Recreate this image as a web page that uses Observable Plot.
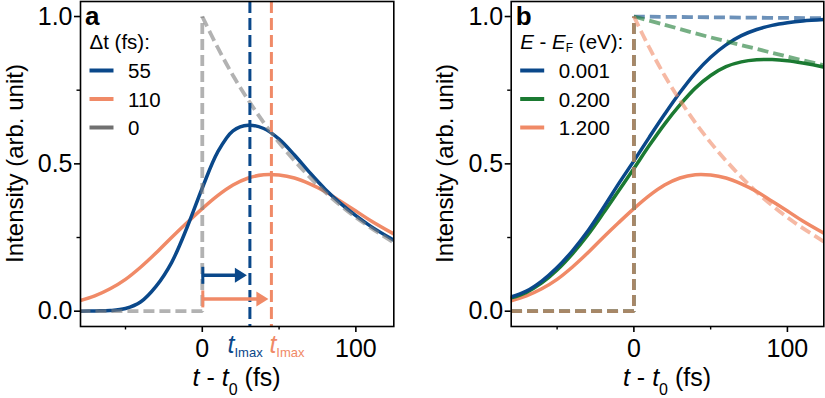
<!DOCTYPE html>
<html><head><meta charset="utf-8">
<script src="https://cdn.jsdelivr.net/npm/d3@7"></script>
<script src="https://cdn.jsdelivr.net/npm/@observablehq/plot@0.6"></script>
<style>
html,body{margin:0;padding:0;background:#fff;}
#wrap{position:relative;width:825px;height:398px;overflow:hidden;background:#fff;}
#wrap svg{position:absolute;top:0;}
</style></head><body><div id="wrap"></div>
<script>
// ---------- data ----------
const T = [-80,-70,-60,-50,-40,-30,-20,-10,0,10,20,30,40,50,60,70,80,90,100,110,125];
const intensity55fs  = [0.000,0.001,0.002,0.009,0.032,0.085,0.165,0.283,0.418,0.540,0.612,0.631,0.620,0.584,0.530,0.470,0.414,0.366,0.324,0.287,0.240];
const intensity110fs = [0.035,0.052,0.076,0.108,0.150,0.198,0.250,0.300,0.348,0.392,0.428,0.452,0.463,0.462,0.452,0.432,0.406,0.373,0.340,0.306,0.261];
const intensity0001eV = [0.048,0.068,0.102,0.148,0.205,0.272,0.350,0.432,0.510,0.590,0.668,0.742,0.808,0.862,0.904,0.935,0.956,0.970,0.979,0.985,0.990];
const intensity0200eV = [0.045,0.064,0.096,0.140,0.195,0.259,0.332,0.408,0.484,0.562,0.635,0.700,0.757,0.800,0.830,0.846,0.853,0.854,0.850,0.842,0.827];
const intensity1200eV = intensity110fs; // same curve in both panels

const stepT = [-80, 0, 0];
const stepV = [0, 0, 1];
const decayT1200 = [0,10,20,30,40,50,60,70,80,90,100,110,125];
const decay1200  = [1.0,0.895,0.800,0.716,0.640,0.572,0.511,0.455,0.404,0.359,0.318,0.282,0.232];
const decayT0200 = [0,20,40,60,80,100,125];
const decay0200  = [1.0,0.972,0.943,0.916,0.890,0.864,0.833];
const decayT0001 = [0,60,125];
const decay0001  = [1.0,0.997,0.994];

const tImax = [31, 45];          // fs, for Δt = 55, 110
const arrowLevel = [0.12, 0.04];

const legendA = ["55", "110", "0"];
const legendB = ["0.001", "0.200", "1.200"];
const xTicks = [0, 100], xMinor = [-50, 50];
const yTicks = [0, 0.5, 1], yMinor = [0.25, 0.75];

// ---------- style ----------
const FONT = "'Liberation Sans', Arial, Helvetica, sans-serif";
const BLUE = "#0a488a", ORANGE = "#f08a67", GREEN = "#1b7a32", GRAY = "#7f7f7f", GRAYLEG = "#707070";

const pts = (xs, ys) => xs.map((t, i) => ({t, v: ys[i]}));
const solid = (xs, ys, color) => Plot.line(pts(xs, ys), {x: "t", y: "v", stroke: color, strokeWidth: 3.5, curve: "catmull-rom", clip: true});
const dashed = (xs, ys, color, op, curve = "catmull-rom") => Plot.line(pts(xs, ys), {x: "t", y: "v", stroke: color, strokeOpacity: op, strokeWidth: 3.8, strokeDasharray: "11,5", strokeLinecap: "butt", strokeLinejoin: "miter", curve, clip: true});

function richText(g, parts, {x, y, anchor = "start", size = 25, fill = "#000", rotate = 0, weight}) {
  const t = g.append("text")
    .attr("transform", `translate(${x},${y})` + (rotate ? ` rotate(${rotate})` : ""))
    .attr("text-anchor", anchor).attr("font-family", FONT).attr("font-size", size)
    .attr("fill", fill).style("white-space", "pre");
  if (weight) t.attr("font-weight", weight);
  let shift = 0;
  for (const p of parts) {
    const o = typeof p === "string" ? {text: p} : p;
    const s = t.append("tspan").text(o.text);
    if (o.italic) s.attr("font-style", "italic");
    if (o.size) s.attr("font-size", o.size);
    const target = o.dy || 0;
    if (target !== shift) { s.attr("dy", target - shift); shift = target; }
  }
  return t;
}

function decorations(letter, header, labels, colors) {
  return (index, scales, values, dims) => {
    const g = d3.create("svg:g");
    const fl = dims.marginLeft, fr = dims.width - dims.marginRight;
    const cy = (dims.marginTop + dims.height - dims.marginBottom) / 2;
    richText(g, [letter], {x: fl + 5, y: 24.5, size: 26, weight: "bold"});
    richText(g, header, {x: fl + 9.5, y: 49, size: 20.5});
    labels.forEach((lab, i) => {
      const yb = 78 + i * 28.5;
      g.append("line").attr("x1", fl + 9.5).attr("x2", fl + 33.5).attr("y1", yb - 7.5).attr("y2", yb - 7.5)
        .attr("stroke", colors[i]).attr("stroke-width", 4);
      richText(g, [lab], {x: fl + 48, y: yb, size: 20.5});
    });
    richText(g, ["Intensity (arb. unit)"], {x: fl - 57.5, y: cy, anchor: "middle", size: 24, rotate: -90});
    richText(g, [{text: "t", italic: true}, " - ", {text: "t", italic: true}, {text: "0", size: 16, dy: 9}, " (fs)"],
      {x: (fl + fr) / 2, y: 386, anchor: "middle", size: 25});
    return g.node();
  };
}

function arrowsMark(tmaxs, levels, colors) {
  return (index, scales) => {
    const g = d3.create("svg:g");
    tmaxs.forEach((tm, i) => {
      const x0 = scales.x(0), x1 = scales.x(tm) - 2.5, y = scales.y(levels[i]);
      const hl = 12, hh = 7.5;
      g.append("line").attr("x1", x0).attr("x2", x1 - hl + 1).attr("y1", y).attr("y2", y).attr("stroke", colors[i]).attr("stroke-width", 3.5);
      g.append("line").attr("x1", x0 + 1).attr("x2", x0 + 1).attr("y1", y - 8.5).attr("y2", y + 8.5).attr("stroke", colors[i]).attr("stroke-width", 3);
      g.append("path").attr("d", `M${x1},${y}L${x1 - hl},${y - hh}L${x1 - hl},${y + hh}Z`).attr("fill", colors[i]);
    });
    return g.node();
  };
}

function tmaxLabels(tmaxs, colors) {
  return (index, scales) => {
    const g = d3.create("svg:g");
    const parts = [{text: "t", italic: true}, {text: "Imax", size: 13, dy: 4}];
    richText(g, parts, {x: scales.x(tmaxs[0]) - 4.3, y: 353, anchor: "middle", fill: colors[0], size: 25});
    richText(g, parts, {x: scales.x(tmaxs[1]) - 1.5, y: 353, anchor: "start", fill: colors[1], size: 25});
    return g.node();
  };
}

const axes = () => [
  Plot.axisX({ticks: xTicks, tickSize: 6, tickPadding: 7, strokeWidth: 1.6, label: null, fontSize: 25}),
  Plot.axisX({ticks: xMinor, tickSize: 3.5, strokeWidth: 1.4, tickFormat: () => "", label: null}),
  Plot.axisY({ticks: yTicks, tickSize: 6, tickPadding: 2, strokeWidth: 1.6, tickFormat: d => d.toFixed(1), label: null, fontSize: 25}),
  Plot.axisY({ticks: yMinor, tickSize: 3.5, strokeWidth: 1.4, tickFormat: () => "", label: null})
];

const common = {
  height: 398, marginTop: 1, marginBottom: 72,
  y: {domain: [-0.052, 1.051]},
  style: {fontFamily: FONT, fontSize: "25px", color: "#000", background: "transparent", overflow: "visible"}
};

const panelA = Plot.plot({
  ...common, width: 412, marginLeft: 80, marginRight: 18.7,
  x: {domain: [-79.3, 124.7]},
  marks: [
    ...axes(),
    solid(T, intensity110fs, ORANGE),
    solid(T, intensity55fs, BLUE),
    dashed(stepT, stepV, GRAY, 0.6, "linear"),
    dashed(decayT1200, decay1200, GRAY, 0.6),
    Plot.ruleX([tImax[0]], {x: d => d, stroke: BLUE, strokeWidth: 3, strokeDasharray: "12,5"}),
    Plot.ruleX([tImax[1]], {x: d => d, stroke: ORANGE, strokeWidth: 3, strokeDasharray: "12,5"}),
    arrowsMark(tImax, arrowLevel, [BLUE, ORANGE]),
    tmaxLabels(tImax, [BLUE, ORANGE]),
    decorations("a", ["Δt (fs):"], legendA, [BLUE, ORANGE, GRAYLEG]),
    Plot.frame({strokeWidth: 1.6})
  ]
});
panelA.style.left = "0px";

const panelB = Plot.plot({
  ...common, width: 395, marginLeft: 80.7, marginRight: 1.7,
  x: {domain: [-79.9, 123.7]},
  marks: [
    ...axes(),
    solid(T, intensity1200eV, ORANGE),
    solid(T, intensity0200eV, GREEN),
    solid(T, intensity0001eV, BLUE),
    dashed(stepT, stepV, BLUE, 0.6, "linear"),
    dashed(stepT, stepV, GREEN, 0.6, "linear"),
    dashed(stepT, stepV, ORANGE, 0.6, "linear"),
    dashed(decayT0001, decay0001, BLUE, 0.6),
    dashed(decayT0200, decay0200, GREEN, 0.6),
    dashed(decayT1200, decay1200, ORANGE, 0.6),
    decorations("b", [{text: "E", italic: true}, " - ", {text: "E", italic: true}, {text: "F", size: 12, dy: 3}, " (eV):"], legendB, [BLUE, GREEN, ORANGE]),
    Plot.frame({strokeWidth: 1.6})
  ]
});
panelB.style.left = "430px";

const wrap = document.getElementById("wrap");
wrap.appendChild(panelA);
wrap.appendChild(panelB);
</script></body></html>
